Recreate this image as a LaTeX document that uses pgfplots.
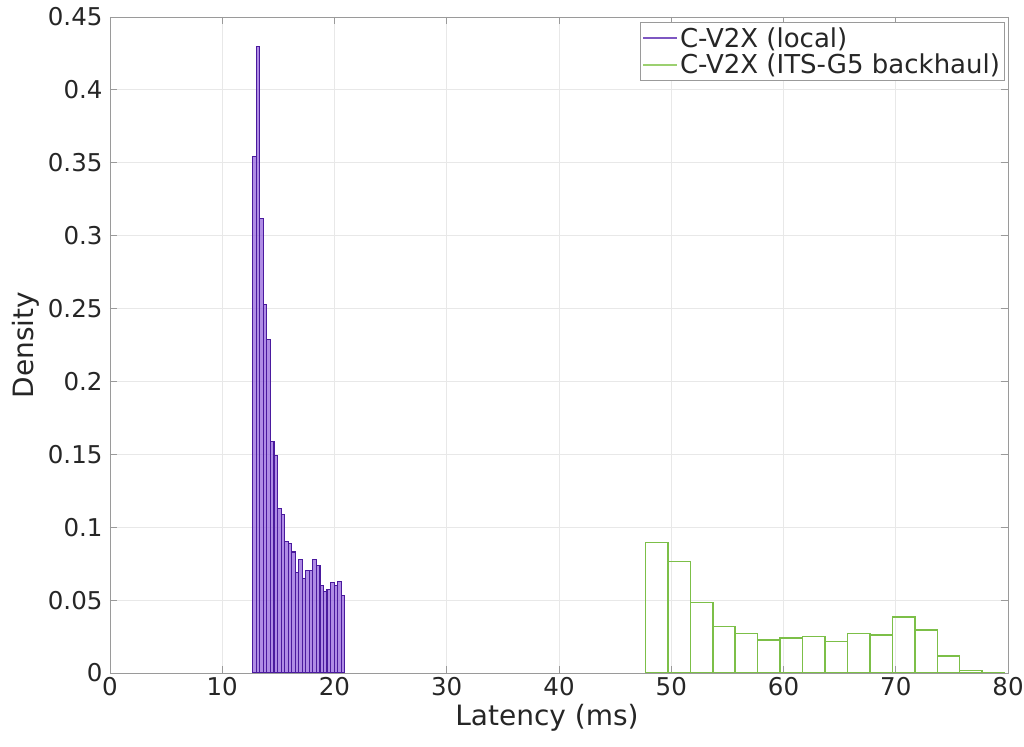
\documentclass[border=0pt]{standalone}
\usepackage{fontspec}
\setmainfont{DejaVu Sans}
\usepackage{pgfplots}
\usepackage{pgfplotstable}
\pgfplotsset{compat=1.18}
\definecolor{pedge}{HTML}{4A1A9E}
\definecolor{pfill}{HTML}{9466DC}
\definecolor{plegend}{HTML}{7E57C2}
\definecolor{gedge}{HTML}{7CBF48}
\definecolor{glegend}{HTML}{9CD070}
\definecolor{gridc}{HTML}{E8E8E8}
\definecolor{axc}{HTML}{9A9A9A}
\definecolor{txt}{HTML}{262626}

\pgfplotstableread{
x y
12.720 0.354
13.035 0.430
13.350 0.312
13.665 0.253
13.980 0.229
14.295 0.159
14.610 0.149
14.925 0.113
15.240 0.109
15.555 0.090
15.870 0.089
16.185 0.083
16.500 0.069
16.815 0.078
17.130 0.065
17.445 0.070
17.760 0.070
18.075 0.078
18.390 0.074
18.705 0.060
19.020 0.056
19.335 0.057
19.650 0.062
19.965 0.060
20.280 0.063
20.595 0.053
20.910 0.053
}\localdata

\pgfplotstableread{
x y
47.7 0.0896
49.7 0.0764
51.7 0.0484
53.7 0.0318
55.7 0.0272
57.7 0.0226
59.7 0.0240
61.7 0.0249
63.7 0.0215
65.7 0.0272
67.7 0.0261
69.7 0.0384
71.7 0.0295
73.7 0.0117
75.7 0.0016
77.7 0.0005
79.7 0.0005
}\backhauldata

\begin{document}
\begin{tikzpicture}
\begin{axis}[
  width=898pt, height=656pt, scale only axis,
  xmin=0, xmax=80, ymin=0, ymax=0.45,
  xtick={0,10,...,80},
  ytick={0,0.05,...,0.45},
  yticklabels={0,0.05,0.1,0.15,0.2,0.25,0.3,0.35,0.4,0.45},
  grid=major,
  major grid style={gridc, line width=0.8pt},
  axis line style={axc, line width=0.8pt},
  tick style={axc, line width=0.8pt},
  tick align=inside,
  major tick length=7pt,
  /pgf/number format/assume math mode=true,
  ticklabel style={font=\fontsize{24.5}{28}\selectfont, text=txt},
  yticklabel style={xshift=-4pt},
  xticklabel style={yshift=-1pt},
  xlabel={Latency (ms)},
  ylabel={Density},
  label style={font=\fontsize{28}{32}\selectfont, text=txt},
  xlabel style={yshift=-1pt, xshift=-12pt},
  ylabel style={yshift=2pt},
  legend cell align=left,
  legend style={at={(rel axis cs:0.996,0.992)}, anchor=north east,
    font=\fontsize{26}{30}\selectfont, draw=axc, line width=0.8pt,
    inner xsep=2pt, inner ysep=3pt, row sep=1pt, text=txt},
  legend image code/.code={\draw[#1] (0pt,0pt) -- (34pt,0pt);},
]
\addplot[ybar interval, draw=pedge, fill=pfill, fill opacity=0.75, line width=1.1pt, forget plot] table[x=x,y=y] {\localdata};
\addplot[ybar interval, draw=gedge, fill=none, line width=1.5pt, forget plot] table[x=x,y=y] {\backhauldata};
\addlegendimage{plegend, line width=2pt}
\addlegendentry{C-V2X (local)}
\addlegendimage{glegend, line width=2pt}
\addlegendentry{C-V2X (ITS-G5 backhaul)}
\end{axis}
\pgfresetboundingbox
\path[use as bounding box] ([xshift=-110pt,yshift=-74pt]current axis.south west) rectangle ([xshift=16pt,yshift=17pt]current axis.north east);
\end{tikzpicture}
\end{document}
